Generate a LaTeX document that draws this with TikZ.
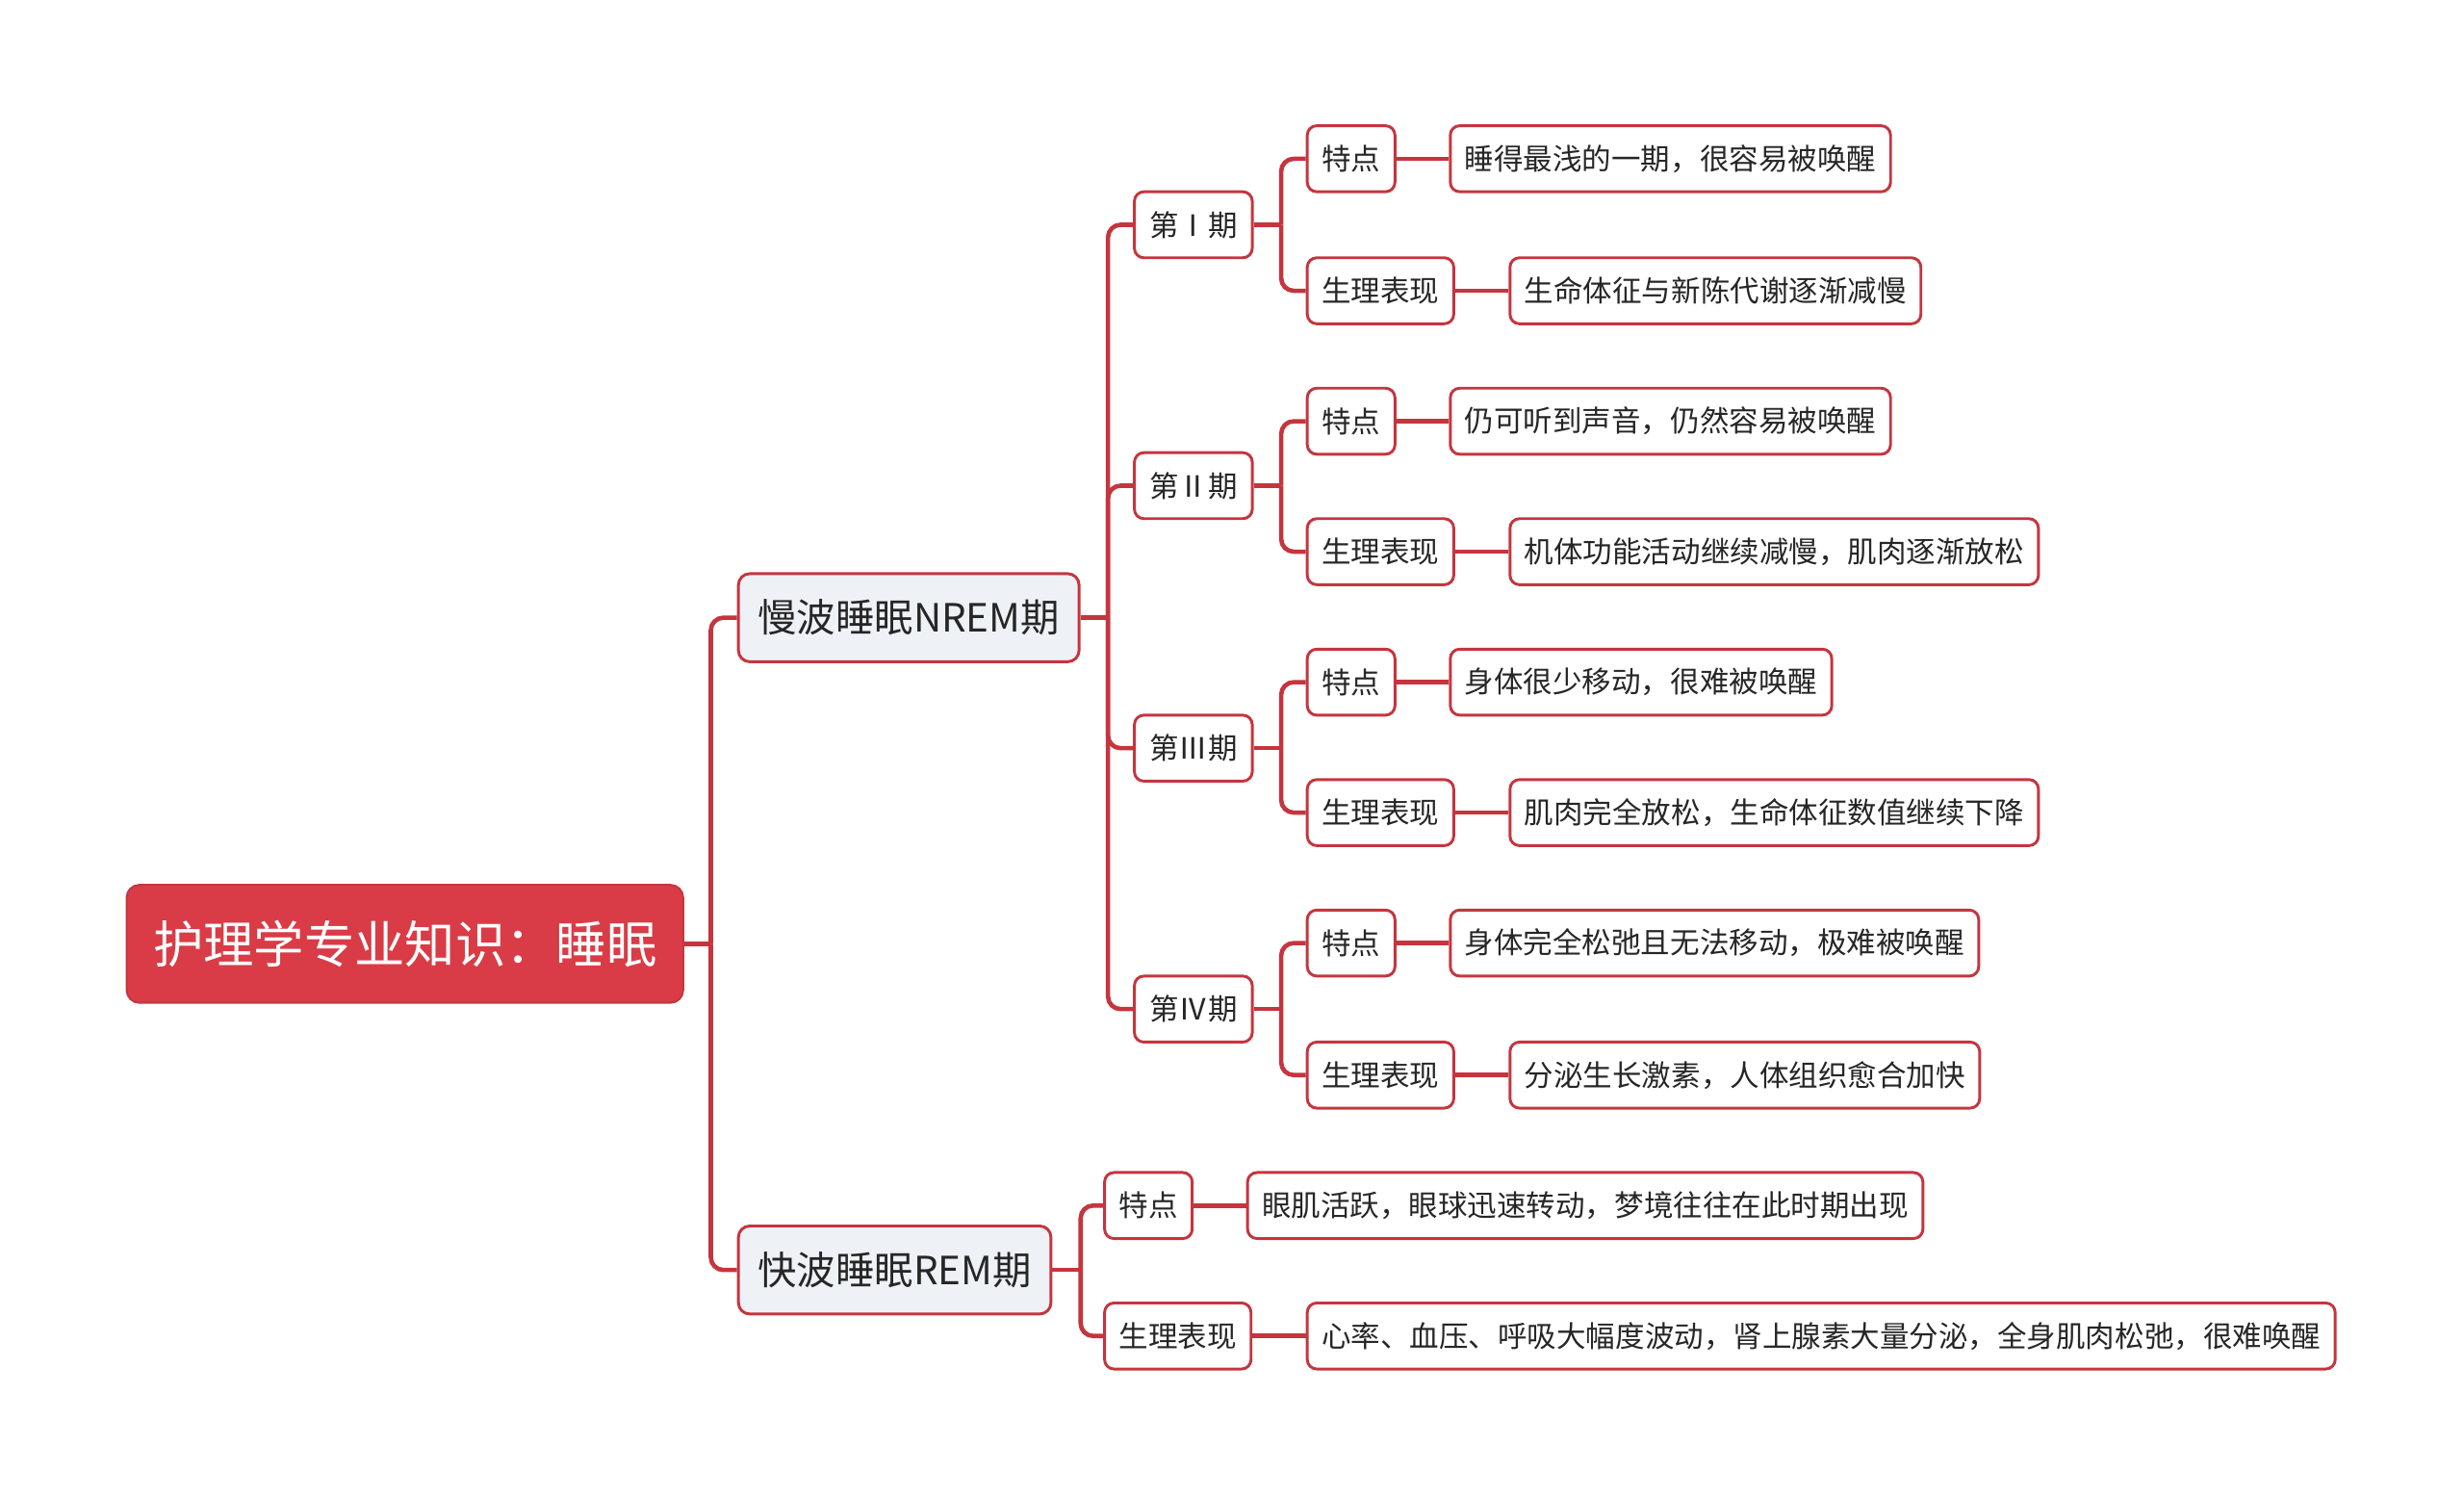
\documentclass[tikz,border=0pt]{standalone}
\usepackage{fontspec}
\setmainfont{Noto Sans CJK SC}
\usetikzlibrary{positioning}
\definecolor{rootred}{HTML}{D93C46}
\definecolor{linered}{HTML}{C5353E}
\definecolor{subgray}{HTML}{EEF1F5}
\definecolor{txtgray}{HTML}{262626}

\begin{document}
\begin{tikzpicture}[
        x=0.25mm, y=-0.25mm,
        rootbox/.style={rectangle, rounded corners=2mm, fill=rootred, draw=linered, line width=0.3mm, text=white, anchor=west, minimum height=18.75mm, inner xsep=4.2mm, inner ysep=0pt, font=\fontsize{22.8}{26}\selectfont},
        mainbox/.style={rectangle, rounded corners=1.8mm, fill=subgray, draw=linered, line width=0.45mm, anchor=west, minimum height=14mm, inner xsep=3.1mm, inner ysep=0pt, text=txtgray, font=\fontsize{17.6}{20}\selectfont},
        box/.style={rectangle, rounded corners=1.5mm, fill=white, draw=linered, line width=0.45mm, anchor=west, minimum height=10.5mm, inner xsep=2.3mm, inner ysep=0pt, text=txtgray, font=\fontsize{13.3}{16}\selectfont},
        stagebox/.style={box, minimum width=18.75mm},
        link/.style={draw=linered, line width=0.7mm, rounded corners=2mm}
    ]
    \useasboundingbox (0,0) rectangle (1568,952);

    %% --- Root ---
    \node[rootbox] (root) at (80, 600.5) {护理学专业知识：睡眠};

    %% --- Two sleep phases ---
    \node[mainbox] (nrem) at (469, 393) {慢波睡眠NREM期};
    \node[mainbox] (rem)  at (469, 808) {快波睡眠REM期};

    %% --- NREM stages ---
    \node[stagebox] (s1) at (721, 143) {第Ⅰ期};
    \node[stagebox] (s2) at (721, 309) {第Ⅱ期};
    \node[stagebox] (s3) at (721, 476) {第Ⅲ期};
    \node[stagebox] (s4) at (721, 642) {第Ⅳ期};

    %% --- Stage I ---
    \node[box] (feat1) at (831, 101) {特点};
    \node[box] (phys1) at (831, 185) {生理表现};
    \node[box] (feat1txt) at (922, 101) {睡得最浅的一期，很容易被唤醒};
    \node[box] (phys1txt) at (960, 185) {生命体征与新陈代谢逐渐减慢};

    %% --- Stage II ---
    \node[box] (feat2) at (831, 268) {特点};
    \node[box] (phys2) at (831, 351) {生理表现};
    \node[box] (feat2txt) at (922, 268) {仍可听到声音，仍然容易被唤醒};
    \node[box] (phys2txt) at (960, 351) {机体功能活动继续减慢，肌肉逐渐放松};

    %% --- Stage III ---
    \node[box] (feat3) at (831, 434) {特点};
    \node[box] (phys3) at (831, 517) {生理表现};
    \node[box] (feat3txt) at (922, 434) {身体很少移动，很难被唤醒};
    \node[box] (phys3txt) at (960, 517) {肌肉完全放松，生命体征数值继续下降};

    %% --- Stage IV ---
    \node[box] (feat4) at (831, 600) {特点};
    \node[box] (phys4) at (831, 684) {生理表现};
    \node[box] (feat4txt) at (922, 600) {身体完全松弛且无法移动，极难被唤醒};
    \node[box] (phys4txt) at (960, 684) {分泌生长激素，人体组织愈合加快};

    %% --- REM ---
    \node[box] (remfeat) at (702, 767) {特点};
    \node[box] (remphys) at (702, 850) {生理表现};
    \node[box] (remfeattxt) at (793, 767) {眼肌活跃，眼球迅速转动，梦境往往在此时期出现};
    \node[box] (remphystxt) at (831, 850) {心率、血压、呼吸大幅度波动，肾上腺素大量分泌，全身肌肉松弛，很难唤醒};

    %% --- Root -> phases ---
    \draw[link] (root.east) -- ++(17, 0) coordinate (jroot);
    \draw[link] (jroot) |- (nrem.west);
    \draw[link] (jroot) |- (rem.west);

    %% --- NREM -> stages ---
    \draw[link] (nrem.east) -- ++(17.5, 0) coordinate (jnrem);
    \draw[link] (jnrem) |- (s1.west);
    \draw[link] (jnrem) |- (s2.west);
    \draw[link] (jnrem) |- (s3.west);
    \draw[link] (jnrem) |- (s4.west);

    %% --- Stages -> items ---
    \draw[link] (s1.east) -- ++(17.5, 0) coordinate (js1);
    \draw[link] (js1) |- (feat1.west);
    \draw[link] (js1) |- (phys1.west);
    \draw[link] (s2.east) -- ++(17.5, 0) coordinate (js2);
    \draw[link] (js2) |- (feat2.west);
    \draw[link] (js2) |- (phys2.west);
    \draw[link] (s3.east) -- ++(17.5, 0) coordinate (js3);
    \draw[link] (js3) |- (feat3.west);
    \draw[link] (js3) |- (phys3.west);
    \draw[link] (s4.east) -- ++(17.5, 0) coordinate (js4);
    \draw[link] (js4) |- (feat4.west);
    \draw[link] (js4) |- (phys4.west);

    %% --- REM -> items ---
    \draw[link] (rem.east) -- ++(18, 0) coordinate (jrem);
    \draw[link] (jrem) |- (remfeat.west);
    \draw[link] (jrem) |- (remphys.west);

    %% --- Items -> texts ---
    \draw[link] (feat1.east) -- (feat1txt.west);
    \draw[link] (phys1.east) -- (phys1txt.west);
    \draw[link] (feat2.east) -- (feat2txt.west);
    \draw[link] (phys2.east) -- (phys2txt.west);
    \draw[link] (feat3.east) -- (feat3txt.west);
    \draw[link] (phys3.east) -- (phys3txt.west);
    \draw[link] (feat4.east) -- (feat4txt.west);
    \draw[link] (phys4.east) -- (phys4txt.west);
    \draw[link] (remfeat.east) -- (remfeattxt.west);
    \draw[link] (remphys.east) -- (remphystxt.west);

\end{tikzpicture}
\end{document}
